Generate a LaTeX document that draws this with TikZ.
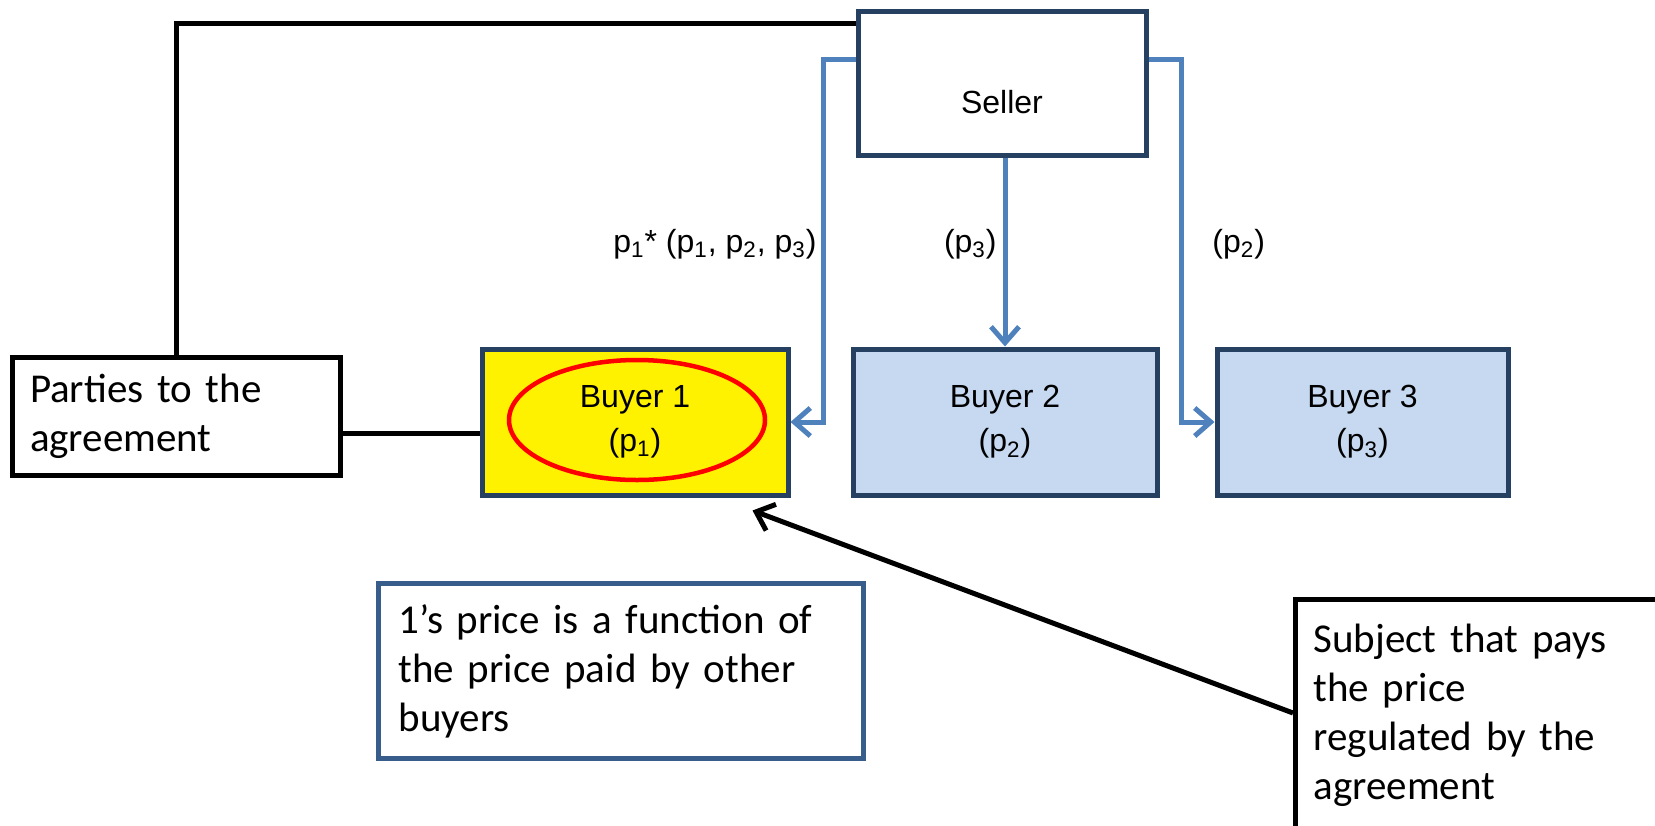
\documentclass[tikz,border=0pt]{standalone}
\usepackage{fontspec}
\setmainfont{Carlito}
\newfontfamily\arialfont{Liberation Sans}
\usepackage{tikz}
\usetikzlibrary{arrows.meta,positioning,calc}

\definecolor{navyedge}{RGB}{37,64,97}
\definecolor{buyerfill}{RGB}{198,217,241}
\definecolor{flowblue}{RGB}{79,129,189}
\definecolor{noteedge}{RGB}{56,93,138}

\begin{document}
\begin{tikzpicture}[
  x=0.5pt, y=-0.5pt,
  sellerbox/.style={
    rectangle,
    draw=navyedge,
    line width=2.5pt,
    fill=white,
    font=\arialfont\fontsize{16}{22}\selectfont
  },
  buyerbox/.style={
    sellerbox,
    fill=buyerfill,
    align=center,
    minimum height=73pt
  },
  partybox/.style={
    rectangle,
    draw=black,
    line width=2.5pt,
    fill=white,
    align=left,
    inner xsep=9pt,
    font=\fontsize{20.5}{24.5}\selectfont
  },
  notebox/.style={
    partybox,
    draw=noteedge,
    line width=2.25pt,
    inner xsep=10pt
  },
  ring/.style={draw=red, line width=2.25pt},
  partyline/.style={draw=black, line width=2.5pt},
  priceflow/.style={draw=flowblue, line width=2.5pt, -{Straight Barb[length=8pt,width=14pt]}},
  pointer/.style={draw=black, line width=2.5pt, -{Straight Barb[length=8pt,width=14pt]}},
  pricelabel/.style={font=\arialfont\fontsize{16}{22}\selectfont, inner sep=1pt}
]
\useasboundingbox (0,0) rectangle (1655,825);
\clip (0,0) rectangle (1655,825);

\node[sellerbox, minimum width=144pt, minimum height=72pt, text height=30pt, text depth=0pt] (seller) at (1002,83) {Seller};

\node[buyerbox, fill=yellow, minimum width=153pt] (buyer1) at (635,422) {Buyer 1\\(p\textsubscript{1})};
\node[buyerbox, minimum width=152pt, right=30pt of buyer1] (buyer2) {Buyer 2\\(p\textsubscript{2})};
\node[buyerbox, minimum width=145.5pt, right=27.5pt of buyer2] (buyer3) {Buyer 3\\(p\textsubscript{3})};
\draw[ring] ($(buyer1.center)+(2,-2)$) ellipse [x radius=64pt, y radius=30pt];

\node[partybox, text width=146pt, minimum height=59pt] (parties) at (176,416) {Parties to the\\agreement};
\node[notebox, text width=222.5pt, minimum height=87.5pt] (note) at (621,671) {1’s price is a function of\\the price paid by other\\buyers};
% box runs off the page, so the text is pinned to its top
\node[partybox, anchor=north west, inner ysep=0.5pt, text width=200pt, text height=26pt, text depth=150pt] (subject) at (1293,597) {Subject that pays\\the price\\regulated by the\\agreement};

\node[pricelabel, anchor=east] (lblone) at (819,244) {p\textsubscript{1}* (p\textsubscript{1}, p\textsubscript{2}, p\textsubscript{3})};
\node[pricelabel, anchor=east] (lbltwo) at (999,244) {(p\textsubscript{3})};
\node[pricelabel, anchor=west] (lblthree) at (1210,244) {(p\textsubscript{2})};

\draw[partyline] ($(seller.north west)+(0,15)$) -| (parties.north);
\draw[partyline] ($(parties.east)+(0,17)$) coordinate (pb) -- (pb -| buyer1.west);

\draw[priceflow] ($(seller.north west)+(0,51)$) -| ($(buyer1.east)+(33,0)$) -- (buyer1.east);
\draw[priceflow] (seller.south -| buyer2.north) -- (buyer2.north);
\draw[priceflow] ($(seller.north east)+(0,51)$) -| ($(buyer3.west)+(-33,0)$) -- (buyer3.west);

\draw[pointer] ($(subject.north west)+(0,116)$) -- ($(buyer1.south east)+(-38,13)$);
\end{tikzpicture}
\end{document}
